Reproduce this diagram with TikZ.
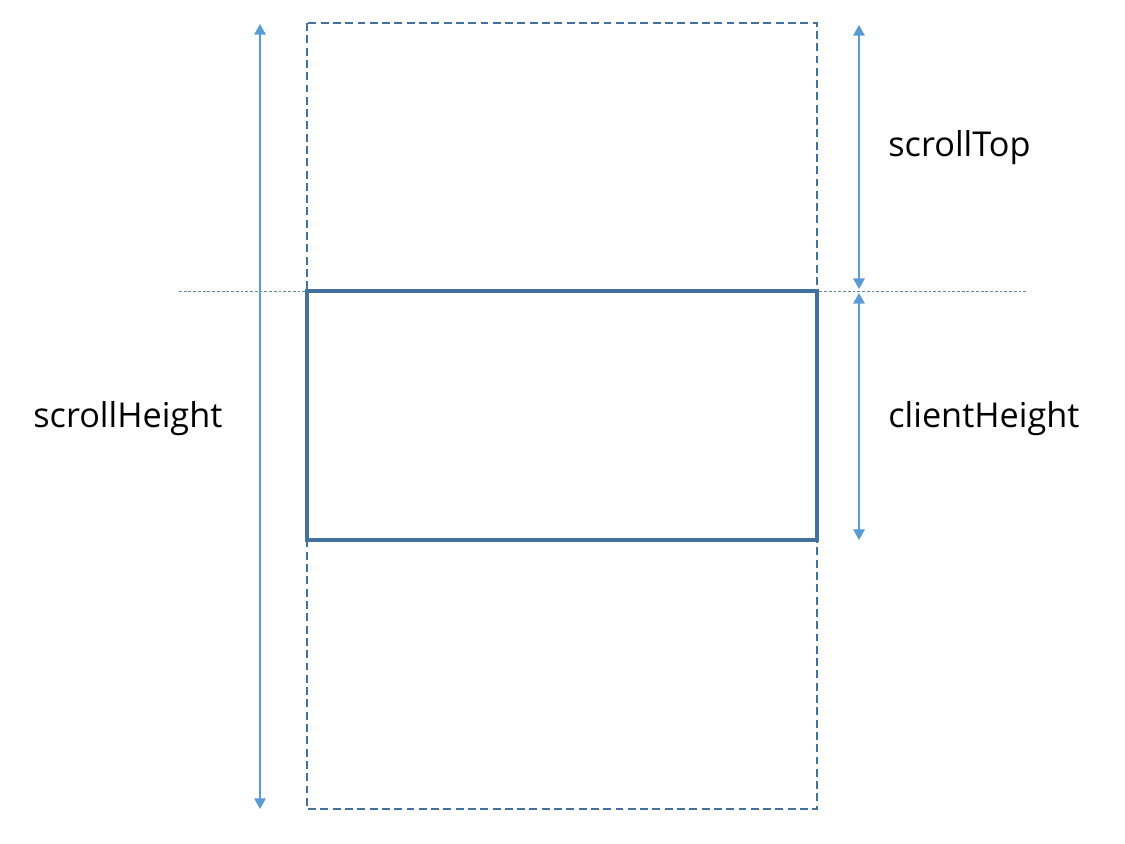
\documentclass[tikz,border=0pt]{standalone}
\usepackage{fontspec}
\setmainfont{Open Sans}
\usetikzlibrary{arrows.meta}
\definecolor{boxblue}{HTML}{41719C}
\definecolor{arrowblue}{HTML}{5B9BD5}

\begin{document}
\begin{tikzpicture}[x=0.02cm,y=-0.02cm,
  scrollbox/.style={draw=boxblue, line width=1.1pt, dash pattern=on 4.5pt off 2.5pt},
  clientbox/.style={draw=boxblue, line width=2.5pt},
  guide/.style={draw=boxblue!85, line width=0.5pt, dash pattern=on 1.6pt off 1.1pt},
  measure/.style={draw=arrowblue, line width=0.8pt,
    {Triangle[length=6pt,width=6.5pt]}-{Triangle[length=6pt,width=6.5pt]}},
  lbl/.style={font=\fontsize{19.5}{23}\selectfont, anchor=base west, inner sep=0pt}]
\useasboundingbox (0,0) rectangle (1125,843);
\coordinate (A) at (307,23);
\coordinate (B) at (817,809);
\coordinate (C) at (307,291);
\coordinate (D) at (817,540);
\coordinate (GL) at (179,291);
\coordinate (GR) at (1028,291);
\coordinate (H1) at (260,24);
\coordinate (H2) at (260,809);
\coordinate (T1) at (859,25);
\coordinate (T2) at (859,289);
\coordinate (K1) at (859,293);
\coordinate (K2) at (859,540);
% boxes
\draw[scrollbox] (A) rectangle (B);
\draw[guide] (GL) -- (GR);
\draw[clientbox] (C) rectangle (D);
% measures
\draw[measure] (H1) -- (H2);
\draw[measure] (T1) -- (T2);
\draw[measure] (K1) -- (K2);
\node[lbl] (top) at (888,156) {scrollTop};
\node[lbl] (client) at (888,427) {clientHeight};
\node[lbl] (height) at (33,427) {scrollHeight};
\end{tikzpicture}
\end{document}
